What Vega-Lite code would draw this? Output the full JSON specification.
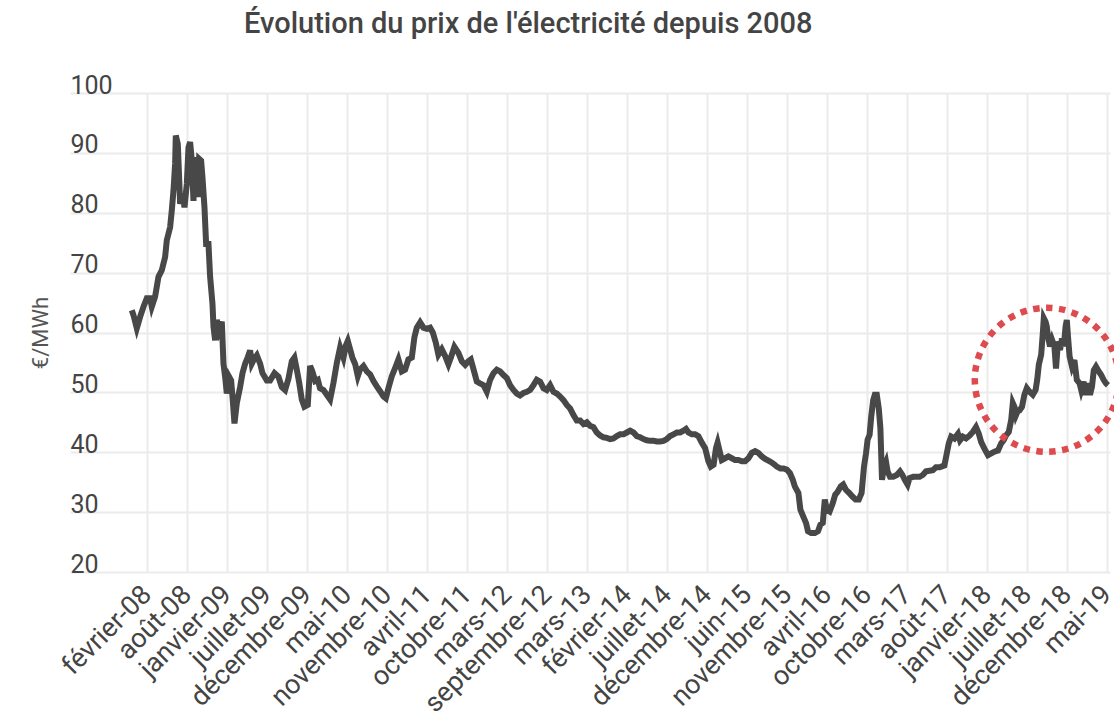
{
  "$schema": "https://vega.github.io/schema/vega-lite/v6.json",
  "width": 1040,
  "height": 479,
  "autosize": {"type": "none"},
  "padding": {"left": 70, "top": 93, "right": 4, "bottom": 146},
  "background": "white",
  "title": {"text": "Évolution du prix de l'électricité depuis 2008", "anchor": "start", "dx": 215, "fontSize": 29, "font": "Roboto", "fontWeight": 500, "color": "#444444", "baseline": "alphabetic", "offset": 11},
  "config": {"view": {"stroke": null}, "font": "Roboto"},
  "datasets": {
    "prix": [
      {"t":-0.375,"price":63.7},{"t":-0.333,"price":62.9},{"t":-0.25,"price":60.7},{"t":-0.167,"price":62.6},{"t":-0.083,"price":64.3},{"t":0,"price":65.7},{"t":0.083,"price":65.7},{"t":0.125,"price":64.3},{"t":0.208,"price":66},{"t":0.292,"price":69.3},{"t":0.375,"price":70.4},{"t":0.458,"price":72.6},{"t":0.5,"price":75.4},{"t":0.583,"price":77.6},{"t":0.625,"price":80.4},{"t":0.667,"price":83.7},{"t":0.708,"price":88.2},{"t":0.725,"price":92.9},{"t":0.775,"price":91.5},{"t":0.808,"price":86},{"t":0.833,"price":81.5},{"t":0.892,"price":83.2},{"t":0.942,"price":80.9},{"t":1.0,"price":84.8},{"t":1.042,"price":90.9},{"t":1.083,"price":91.8},{"t":1.125,"price":88.7},{"t":1.167,"price":82},{"t":1.208,"price":89.3},{"t":1.25,"price":85.9},{"t":1.275,"price":82.6},{"t":1.308,"price":89},{"t":1.358,"price":88.7},{"t":1.392,"price":85.9},{"t":1.442,"price":80.9},{"t":1.483,"price":74.8},{"t":1.542,"price":74.8},{"t":1.583,"price":69.3},{"t":1.642,"price":64.8},{"t":1.667,"price":61},{"t":1.708,"price":58.7},{"t":1.75,"price":62.1},{"t":1.808,"price":60.4},{"t":1.875,"price":61.8},{"t":1.917,"price":54.8},{"t":1.958,"price":52.6},{"t":2.0,"price":49.8},{"t":2.058,"price":52.6},{"t":2.108,"price":52},{"t":2.142,"price":49.3},{"t":2.192,"price":44.8},{"t":2.25,"price":48.2},{"t":2.333,"price":50.9},{"t":2.392,"price":53.2},{"t":2.458,"price":54.8},{"t":2.525,"price":55.9},{"t":2.583,"price":57},{"t":2.625,"price":54.8},{"t":2.692,"price":55.7},{"t":2.75,"price":56.2},{"t":2.833,"price":54.8},{"t":2.892,"price":53.2},{"t":3.0,"price":52},{"t":3.083,"price":52},{"t":3.192,"price":53.2},{"t":3.292,"price":52.6},{"t":3.375,"price":50.9},{"t":3.458,"price":50.4},{"t":3.542,"price":52.3},{"t":3.625,"price":55.2},{"t":3.69,"price":55.8},{"t":3.75,"price":53.8},{"t":3.81,"price":51.6},{"t":3.875,"price":48.8},{"t":3.94,"price":47.6},{"t":4.025,"price":47.9},{"t":4.083,"price":54.4},{"t":4.14,"price":53.5},{"t":4.21,"price":51.9},{"t":4.275,"price":52.1},{"t":4.33,"price":50.7},{"t":4.417,"price":50.4},{"t":4.5,"price":49.6},{"t":4.583,"price":48.8},{"t":4.667,"price":51.6},{"t":4.75,"price":54.9},{"t":4.833,"price":57.5},{"t":4.917,"price":55.8},{"t":4.975,"price":57.8},{"t":5.025,"price":58.6},{"t":5.083,"price":57.2},{"t":5.14,"price":55.8},{"t":5.21,"price":54.7},{"t":5.275,"price":52.7},{"t":5.33,"price":53.8},{"t":5.417,"price":54.4},{"t":5.5,"price":53.5},{"t":5.583,"price":53},{"t":5.667,"price":51.9},{"t":5.75,"price":51},{"t":5.833,"price":50.2},{"t":5.917,"price":49.3},{"t":5.975,"price":49},{"t":6.04,"price":50.7},{"t":6.125,"price":52.7},{"t":6.21,"price":54.1},{"t":6.29,"price":55.5},{"t":6.375,"price":53.5},{"t":6.458,"price":53.8},{"t":6.54,"price":55.5},{"t":6.625,"price":55.8},{"t":6.69,"price":59.2},{"t":6.75,"price":60.8},{"t":6.833,"price":61.7},{"t":6.917,"price":60.8},{"t":7.0,"price":60.6},{"t":7.083,"price":60.8},{"t":7.15,"price":60},{"t":7.225,"price":58.3},{"t":7.29,"price":56.3},{"t":7.375,"price":57.2},{"t":7.458,"price":56.1},{"t":7.54,"price":54.7},{"t":7.6,"price":55.8},{"t":7.69,"price":57.6},{"t":7.79,"price":56.6},{"t":7.875,"price":55.2},{"t":7.96,"price":54.6},{"t":8.04,"price":55.2},{"t":8.1,"price":55.5},{"t":8.17,"price":53.8},{"t":8.25,"price":51.8},{"t":8.33,"price":51.5},{"t":8.417,"price":51.2},{"t":8.5,"price":50.1},{"t":8.583,"price":52.1},{"t":8.667,"price":53.2},{"t":8.75,"price":53.8},{"t":8.833,"price":53.5},{"t":8.917,"price":52.9},{"t":9.0,"price":52.4},{"t":9.083,"price":51.2},{"t":9.167,"price":50.4},{"t":9.25,"price":49.8},{"t":9.33,"price":49.5},{"t":9.417,"price":49.9},{"t":9.5,"price":50.1},{"t":9.583,"price":50.4},{"t":9.667,"price":51.2},{"t":9.75,"price":52.1},{"t":9.833,"price":51.8},{"t":9.917,"price":50.7},{"t":10.0,"price":50.4},{"t":10.083,"price":51.2},{"t":10.167,"price":50.1},{"t":10.25,"price":49.8},{"t":10.333,"price":49.3},{"t":10.417,"price":48.7},{"t":10.5,"price":47.9},{"t":10.583,"price":47.3},{"t":10.667,"price":46.2},{"t":10.75,"price":45.3},{"t":10.833,"price":45.3},{"t":10.917,"price":44.7},{"t":11.0,"price":45},{"t":11.083,"price":44.4},{"t":11.167,"price":44.2},{"t":11.25,"price":43.3},{"t":11.333,"price":42.8},{"t":11.417,"price":42.5},{"t":11.5,"price":42.4},{"t":11.583,"price":42.2},{"t":11.667,"price":42.3},{"t":11.75,"price":42.7},{"t":11.833,"price":43},{"t":11.917,"price":43},{"t":12.0,"price":43.3},{"t":12.083,"price":43.6},{"t":12.167,"price":43.3},{"t":12.25,"price":42.7},{"t":12.333,"price":42.5},{"t":12.417,"price":42.2},{"t":12.5,"price":42},{"t":12.583,"price":41.9},{"t":12.667,"price":41.9},{"t":12.75,"price":41.8},{"t":12.833,"price":41.8},{"t":12.917,"price":41.9},{"t":13.0,"price":42.2},{"t":13.083,"price":42.7},{"t":13.167,"price":43},{"t":13.25,"price":43.3},{"t":13.333,"price":43.3},{"t":13.417,"price":43.6},{"t":13.48,"price":43.9},{"t":13.54,"price":43.3},{"t":13.625,"price":43},{"t":13.708,"price":43},{"t":13.79,"price":42.7},{"t":13.875,"price":41.6},{"t":13.958,"price":40.7},{"t":14.04,"price":38.5},{"t":14.1,"price":37.6},{"t":14.17,"price":37.9},{"t":14.23,"price":40.7},{"t":14.27,"price":41.6},{"t":14.32,"price":40.2},{"t":14.375,"price":38.7},{"t":14.458,"price":39},{"t":14.54,"price":39.3},{"t":14.625,"price":39},{"t":14.708,"price":38.7},{"t":14.79,"price":38.7},{"t":14.875,"price":38.5},{"t":14.958,"price":38.5},{"t":15.04,"price":39},{"t":15.125,"price":39.9},{"t":15.208,"price":40.2},{"t":15.29,"price":39.9},{"t":15.375,"price":39.3},{"t":15.458,"price":38.9},{"t":15.54,"price":38.6},{"t":15.62,"price":38.3},{"t":15.7,"price":37.9},{"t":15.75,"price":37.6},{"t":15.84,"price":37.3},{"t":15.92,"price":37.3},{"t":16.0,"price":37.1},{"t":16.08,"price":36.5},{"t":16.15,"price":35.4},{"t":16.2,"price":34.3},{"t":16.29,"price":33.2},{"t":16.34,"price":30.4},{"t":16.41,"price":29.3},{"t":16.48,"price":28.2},{"t":16.53,"price":26.8},{"t":16.61,"price":26.5},{"t":16.7,"price":26.5},{"t":16.78,"price":26.8},{"t":16.84,"price":27.9},{"t":16.9,"price":28.2},{"t":16.95,"price":32.1},{"t":17.0,"price":30.4},{"t":17.07,"price":30.1},{"t":17.15,"price":31.5},{"t":17.21,"price":32.9},{"t":17.27,"price":33.4},{"t":17.35,"price":34.3},{"t":17.41,"price":34.6},{"t":17.48,"price":33.7},{"t":17.56,"price":33.2},{"t":17.64,"price":32.6},{"t":17.72,"price":32.1},{"t":17.8,"price":32.1},{"t":17.87,"price":33.2},{"t":17.93,"price":37.6},{"t":17.98,"price":39.8},{"t":18.02,"price":42.1},{"t":18.07,"price":42.9},{"t":18.11,"price":45.9},{"t":18.16,"price":48.7},{"t":18.2,"price":49.6},{"t":18.25,"price":49.6},{"t":18.3,"price":47.3},{"t":18.34,"price":44},{"t":18.38,"price":35.4},{"t":18.43,"price":37.6},{"t":18.48,"price":38.4},{"t":18.52,"price":36.8},{"t":18.58,"price":35.9},{"t":18.66,"price":35.9},{"t":18.75,"price":36.2},{"t":18.83,"price":36.8},{"t":18.89,"price":36.2},{"t":18.95,"price":35.4},{"t":19.02,"price":34.6},{"t":19.07,"price":35.7},{"t":19.16,"price":35.9},{"t":19.24,"price":35.9},{"t":19.32,"price":35.9},{"t":19.4,"price":36.2},{"t":19.48,"price":36.8},{"t":19.57,"price":36.9},{"t":19.65,"price":37},{"t":19.73,"price":37.5},{"t":19.82,"price":37.5},{"t":19.94,"price":37.8},{"t":20.0,"price":39.8},{"t":20.05,"price":41.5},{"t":20.11,"price":42.6},{"t":20.19,"price":42.3},{"t":20.28,"price":43.1},{"t":20.33,"price":42},{"t":20.4,"price":42.6},{"t":20.48,"price":42.3},{"t":20.57,"price":42.8},{"t":20.65,"price":43.4},{"t":20.73,"price":44.2},{"t":20.8,"price":43.1},{"t":20.86,"price":41.7},{"t":20.94,"price":40.6},{"t":21.03,"price":39.5},{"t":21.11,"price":39.8},{"t":21.19,"price":40.1},{"t":21.28,"price":40.3},{"t":21.36,"price":41.5},{"t":21.42,"price":42},{"t":21.48,"price":42.8},{"t":21.55,"price":43.4},{"t":21.61,"price":45.4},{"t":21.65,"price":48.2},{"t":21.69,"price":47.6},{"t":21.73,"price":46.2},{"t":21.78,"price":47},{"t":21.82,"price":47},{"t":21.88,"price":47.6},{"t":21.94,"price":49.6},{"t":22.0,"price":50.7},{"t":22.07,"price":50.1},{"t":22.15,"price":49.6},{"t":22.22,"price":50.4},{"t":22.26,"price":52.1},{"t":22.3,"price":54.6},{"t":22.36,"price":56.3},{"t":22.4,"price":59.9},{"t":22.425,"price":62.4},{"t":22.47,"price":61.8},{"t":22.5,"price":61},{"t":22.53,"price":59.3},{"t":22.58,"price":57.7},{"t":22.63,"price":58.8},{"t":22.69,"price":57.7},{"t":22.73,"price":54},{"t":22.78,"price":58.5},{"t":22.83,"price":57.1},{"t":22.88,"price":59},{"t":22.925,"price":57.7},{"t":22.97,"price":61},{"t":23.0,"price":62.1},{"t":23.03,"price":59.3},{"t":23.07,"price":56},{"t":23.13,"price":54.3},{"t":23.19,"price":55.4},{"t":23.25,"price":52.1},{"t":23.32,"price":51.5},{"t":23.36,"price":50.4},{"t":23.42,"price":51.8},{"t":23.47,"price":49.6},{"t":23.53,"price":51.5},{"t":23.58,"price":49.6},{"t":23.63,"price":51},{"t":23.675,"price":53.7},{"t":23.73,"price":54.3},{"t":23.8,"price":53.5},{"t":23.86,"price":52.9},{"t":23.92,"price":52.1},{"t":23.98,"price":51.5},{"t":24.03,"price":51.2}
    ],
    "cercle": [{"t": 22.5, "price": 52.1}]
  },
  "layer": [
    {
      "data": {"name": "prix"},
      "mark": {"type": "line", "color": "#484848", "strokeWidth": 6, "strokeJoin": "miter", "strokeCap": "butt"},
      "encoding": {
        "x": {
          "field": "t", "type": "quantitative",
          "scale": {"domain": [-1.92, 24.08], "nice": false, "zero": false},
          "axis": {
            "values": [0,1,2,3,4,5,6,7,8,9,10,11,12,13,14,15,16,17,18,19,20,21,22,23,24],
            "labelExpr": "['février-08','août-08','janvier-09','juillet-09','décembre-09','mai-10','novembre-10','avril-11','octobre-11','mars-12','septembre-12','mars-13','février-14','juillet-14','décembre-14','juin-15','novembre-15','avril-16','octobre-16','mars-17','août-17','janvier-18','juillet-18','décembre-18','mai-19'][datum.value]",
            "labelAngle": -45, "labelAlign": "right", "labelBaseline": "middle",
            "labelFontSize": 27, "labelColor": "#444444", "labelFont": "Roboto",
            "labelPadding": 18, "labelOverlap": false, "labelFlush": false, "labelBound": false,
            "ticks": false, "tickSize": 0, "domain": false,
            "grid": true, "gridColor": "#ebebeb", "gridWidth": 2,
            "title": null
          }
        },
        "y": {
          "field": "price", "type": "quantitative",
          "scale": {"domain": [20, 100], "nice": false, "zero": false},
          "axis": {
            "values": [20,30,40,50,60,70,80,90,100],
            "labelAlign": "left", "labelBaseline": "alphabetic", "labelDy": -6,
            "labelPadding": 0, "ticks": false, "tickSize": 0, "domain": false,
            "labelFontSize": 25, "labelColor": "#444444", "labelFont": "Roboto",
            "grid": true, "gridColor": "#ebebeb", "gridWidth": 2,
            "title": "€/MWh", "titleFontSize": 22, "titleFontWeight": "normal", "titleColor": "#555555", "titleFont": "Roboto",
            "titlePadding": 18
          }
        }
      }
    },
    {
      "data": {"name": "cercle"},
      "mark": {"type": "point", "shape": "circle", "size": 20736, "filled": false, "stroke": "#dd4b4f", "strokeWidth": 6.5, "strokeDash": [6.5, 6.5], "opacity": 1},
      "encoding": {
        "x": {"field": "t", "type": "quantitative"},
        "y": {"field": "price", "type": "quantitative"}
      }
    }
  ]
}
